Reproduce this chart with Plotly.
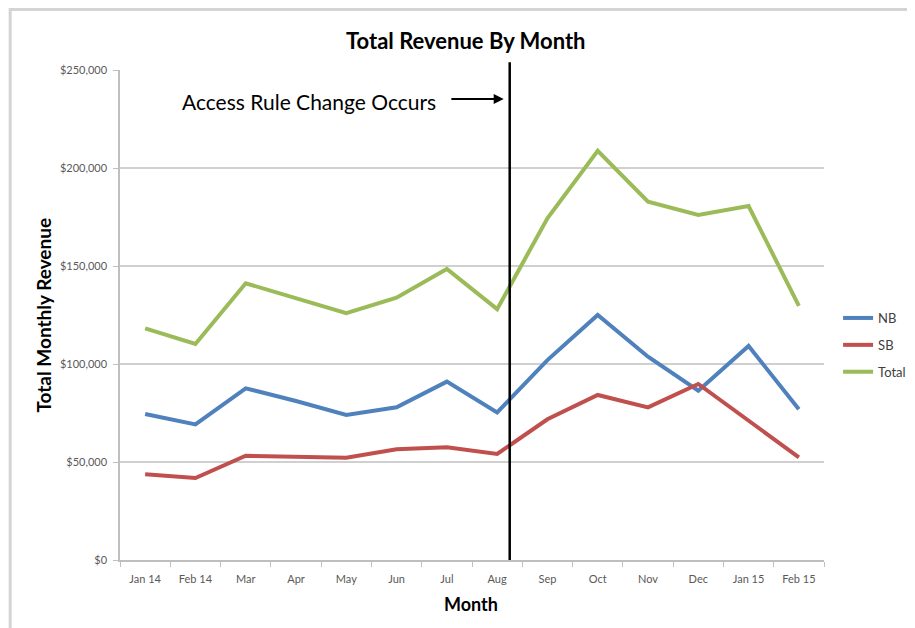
import plotly.graph_objects as go

months = ["Jan 14", "Feb 14", "Mar", "Apr", "May", "Jun", "Jul", "Aug",
          "Sep", "Oct", "Nov", "Dec", "Jan 15", "Feb 15"]
nb = [74500, 69200, 87600, 81100, 74000, 77900, 91000, 75300,
      102000, 125000, 103700, 86400, 109200, 76900]
sb = [43700, 41800, 53200, 52700, 52200, 56500, 57500, 54100,
      71800, 84200, 77900, 89800, 70900, 52400]
total = [118200, 110200, 141200, 133500, 125900, 133800, 148500, 128000,
         174300, 208800, 182800, 176000, 180600, 129700]
y_ticks = [0, 50000, 100000, 150000, 200000, 250000]
y_tick_labels = ["$0", "$50,000", "$100,000", "$150,000", "$200,000", "$250,000"]
change_pos = 7.25  # between Aug and Sep
annotation_text = "Access Rule Change Occurs"

xs = list(range(len(months)))
FONT = "Lato, Open Sans, sans-serif"

fig = go.Figure()
for name, vals, col in [("NB", nb, "#4F81BD"), ("SB", sb, "#C0504D"), ("Total", total, "#9BBB59")]:
    fig.add_trace(go.Scatter(x=xs, y=vals, name=name, mode="lines",
                             line=dict(color=col, width=4), legendgroup=name))

fig.update_layout(
    width=915, height=628,
    margin=dict(l=112, r=90, t=62, b=76),
    paper_bgcolor="white", plot_bgcolor="white",
    showlegend=True,
    legend=dict(x=1.02, y=0.5245, xanchor="left", yanchor="top",
                font=dict(family=FONT, size=13, color="#404040"),
                traceorder="grouped", tracegroupgap=7,
                itemwidth=30, bgcolor="rgba(0,0,0,0)"),
    font=dict(family=FONT),
)

fig.update_xaxes(
    range=[-0.5, len(months) - 0.5],
    tickvals=xs, ticktext=months, ticks="",
    tickfont=dict(family=FONT, size=11, color="#595959"),
    ticklabelstandoff=8,
    showgrid=False, zeroline=False,
    showline=True, linecolor="#bfbfbf", linewidth=1.5,
    minor=dict(tickvals=[i - 0.5 for i in range(len(months) + 1)],
               ticks="outside", ticklen=5, tickcolor="#bfbfbf", tickwidth=1, showgrid=False),
    fixedrange=True,
)
fig.update_yaxes(
    range=[0, 250000],
    tickvals=y_ticks, ticktext=y_tick_labels,
    ticks="outside", ticklen=5, tickcolor="#bfbfbf",
    tickfont=dict(family=FONT, size=11, color="#595959"),
    ticklabelstandoff=4,
    showgrid=True, gridcolor="#d0d0d0", gridwidth=1.5,
    zeroline=False, showline=True, linecolor="#bfbfbf", linewidth=1.5,
    fixedrange=True,
)

# vertical change line
fig.add_shape(type="line", xref="x", yref="paper", x0=change_pos, x1=change_pos,
              y0=0, y1=1.016, line=dict(color="black", width=2.5))

# outer chart frame
fig.add_shape(type="rect", xref="paper", yref="paper",
              x0=-0.156, x1=1.2, y0=-0.25, y1=1.1235,
              line=dict(color="#d4d4d4", width=3), layer="below")

# annotation text + arrow
fig.add_annotation(x=3.257, y=234000, xref="x", yref="y", text=annotation_text,
                   showarrow=False, xanchor="center", yanchor="middle",
                   font=dict(family=FONT, size=21, color="black"))
fig.add_annotation(x=7.13, y=235200, ax=6.06, ay=235200, xref="x", yref="y",
                   axref="x", ayref="y", text="", showarrow=True,
                   arrowhead=2, arrowsize=1, arrowwidth=2, arrowcolor="black")

# title
fig.add_annotation(x=0.4915, y=1.061, xref="paper", yref="paper",
                   text="<b>Total Revenue By Month</b>", showarrow=False,
                   xanchor="center", yanchor="middle",
                   font=dict(family=FONT, size=22, color="black"))
# y title
fig.add_annotation(x=-0.110, y=0.5, xref="paper", yref="paper",
                   text="<b>Total Monthly Revenue</b>", textangle=-90, showarrow=False,
                   xanchor="center", yanchor="middle",
                   font=dict(family=FONT, size=19, color="black"))
# x title
fig.add_annotation(x=0.4986, y=-0.0898, xref="paper", yref="paper",
                   text="<b>Month</b>", showarrow=False,
                   xanchor="center", yanchor="middle",
                   font=dict(family=FONT, size=18, color="black"))

fig.write_html("out.html")
